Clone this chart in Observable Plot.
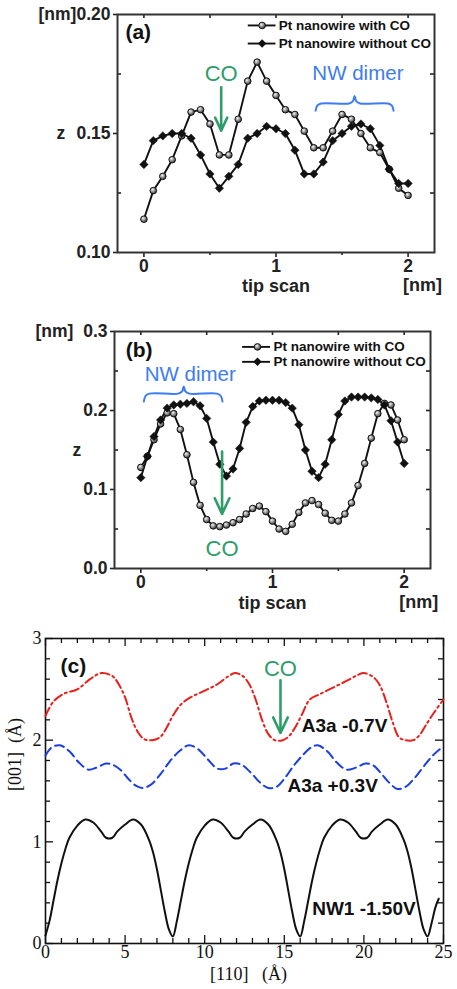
<!DOCTYPE html>
<html>
<head>
<meta charset="utf-8">
<script src="https://cdn.jsdelivr.net/npm/d3@7"></script>
<script src="https://cdn.jsdelivr.net/npm/@observablehq/plot@0.6"></script>
<style>
  html, body { margin: 0; padding: 0; background: #fff; }
  #wrap { width: 457px; }
  #wrap svg { display: block; }
</style>
</head>
<body>
<div id="wrap"></div>
<script>
// ---------------- DATA ----------------
// Panel (a)
const aX = [0,0.071,0.143,0.214,0.286,0.357,0.429,0.5,0.571,0.643,0.714,0.786,0.857,0.929,1,1.071,1.143,1.214,1.286,1.357,1.429,1.5,1.571,1.643,1.714,1.786,1.857,1.929,2];
const aWithCO = [0.114,0.126,0.132,0.139,0.149,0.159,0.160,0.154,0.141,0.141,0.156,0.172,0.180,0.172,0.166,0.160,0.158,0.151,0.144,0.144,0.151,0.158,0.156,0.150,0.144,0.142,0.135,0.127,0.124];
const aWithoutCO = [0.137,0.147,0.149,0.150,0.150,0.148,0.141,0.133,0.127,0.132,0.137,0.148,0.150,0.153,0.152,0.150,0.143,0.133,0.133,0.138,0.147,0.150,0.153,0.154,0.152,0.145,0.135,0.129,0.129];

// Panel (b)
const bX = [0,0.05,0.1,0.15,0.2,0.25,0.3,0.35,0.4,0.45,0.5,0.55,0.6,0.65,0.7,0.75,0.8,0.85,0.9,0.95,1,1.05,1.1,1.15,1.2,1.25,1.3,1.35,1.4,1.45,1.5,1.55,1.6,1.65,1.7,1.75,1.8,1.85,1.9,1.95,2];
const bWithCO = [0.128,0.142,0.163,0.183,0.197,0.196,0.176,0.144,0.109,0.080,0.062,0.054,0.053,0.055,0.058,0.062,0.069,0.076,0.079,0.072,0.060,0.050,0.047,0.056,0.071,0.083,0.086,0.081,0.070,0.061,0.060,0.069,0.083,0.105,0.133,0.165,0.196,0.209,0.207,0.188,0.163];
const bWithoutCO = [0.115,0.142,0.167,0.188,0.203,0.207,0.208,0.209,0.211,0.206,0.190,0.160,0.132,0.117,0.126,0.152,0.185,0.205,0.212,0.213,0.213,0.213,0.210,0.203,0.182,0.150,0.123,0.115,0.132,0.163,0.195,0.212,0.217,0.217,0.217,0.216,0.214,0.207,0.187,0.160,0.133];

// Panel (c)
const redX = [0,0.5,1.2,2.0,2.8,3.5,4.2,4.6,5.0,5.4,5.8,6.2,6.7,7.2,7.6,8.0,8.5,9.1,9.9,10.8,11.5,11.9,12.4,12.8,13.2,13.6,14.0,14.4,14.9,15.3,15.7,16.1,16.6,17.2,18.1,19.0,19.6,20.0,20.6,21.0,21.4,21.8,22.2,22.6,23.1,23.5,23.9,24.4,25.0];
const redY = [2.24,2.38,2.46,2.50,2.60,2.66,2.63,2.55,2.42,2.22,2.08,2.01,2.00,2.03,2.12,2.24,2.35,2.42,2.48,2.55,2.63,2.66,2.63,2.55,2.40,2.20,2.06,2.00,2.00,2.04,2.13,2.25,2.40,2.45,2.52,2.59,2.64,2.66,2.62,2.54,2.38,2.18,2.03,2.00,2.00,2.05,2.15,2.27,2.40];
const blueX = [0,0.4,0.9,1.5,2.1,2.7,3.2,3.8,4.2,4.7,5.2,5.7,6.1,6.6,7.2,7.8,8.4,9.0,9.6,10.2,10.8,11.3,11.8,12.3,12.9,13.5,14.0,14.5,15.0,15.6,16.2,16.7,17.1,17.7,18.3,18.9,19.5,20.1,20.6,21.1,21.6,22.1,22.6,23.2,23.8,24.4,25.0];
const blueY = [1.85,1.93,1.95,1.89,1.78,1.71,1.73,1.77,1.76,1.71,1.62,1.55,1.53,1.56,1.66,1.79,1.89,1.95,1.91,1.81,1.72,1.72,1.77,1.76,1.68,1.58,1.53,1.54,1.62,1.75,1.86,1.93,1.95,1.89,1.78,1.71,1.73,1.77,1.75,1.67,1.58,1.52,1.54,1.63,1.75,1.86,1.94];
const nwX = [0,0.25,0.5,0.75,1,1.25,1.5,2,2.5,3,3.5,3.8,4.2,4.5,5,5.5,6,6.5,6.75,7,7.25,7.5,7.75,8,
  8.25,8.5,8.75,9,9.25,9.5,10,10.5,11,11.5,11.8,12.2,12.5,13,13.5,14,14.5,14.75,15,15.25,15.5,15.75,16,
  16.25,16.5,16.75,17,17.25,17.5,18,18.5,19,19.5,19.8,20.2,20.5,21,21.5,22,22.5,22.75,23,23.25,23.5,23.75,24,
  24.25,24.5,24.7];
const nwY = [0.08,0.22,0.42,0.62,0.79,0.93,1.04,1.16,1.22,1.19,1.10,1.04,1.04,1.10,1.17,1.22,1.17,1.02,0.90,0.73,0.52,0.31,0.14,0.07,
  0.22,0.42,0.62,0.79,0.93,1.04,1.16,1.22,1.19,1.10,1.04,1.04,1.10,1.17,1.22,1.17,1.02,0.90,0.73,0.52,0.31,0.14,0.07,
  0.22,0.42,0.62,0.79,0.93,1.04,1.16,1.22,1.19,1.10,1.04,1.04,1.10,1.17,1.22,1.17,1.02,0.90,0.73,0.52,0.31,0.14,0.07,
  0.20,0.36,0.44];

// Tick values / labels
const abXMajor = [0, 1, 2];
const abXMinor = [0.5, 1.5];
const abXTop = [0, 0.5, 1, 1.5, 2];
const aYMajor = [0.10, 0.15, 0.20];
const aYMinorLeft = [0.125, 0.175];
const aYRight = [0.125, 0.15, 0.175];
const bYMajor = [0, 0.1, 0.2, 0.3];
const bYMinorLeft = [0.05, 0.15, 0.25];
const bYRight = [0.05, 0.1, 0.15, 0.2, 0.25];
const cXMajor = [0, 5, 10, 15, 20, 25];
const cXMinor = [1,2,3,4,6,7,8,9,11,12,13,14,16,17,18,19,21,22,23,24];
const cYMajor = [0, 1, 2, 3];
const cYMinor = [0.2,0.4,0.6,0.8,1.2,1.4,1.6,1.8,2.2,2.4,2.6,2.8];

// Texts
const legendLabels = ["Pt nanowire with CO", "Pt nanowire without CO"];
const cLabels = [
  {x: 16.1, y: 2.14, t: "A3a -0.7V"},
  {x: 15.2, y: 1.55, t: "A3a +0.3V"},
  {x: 16.75, y: 0.34, t: "NW1 -1.50V"}
];

// Annotation anchors (data units)
const aAnn = {co: {x: 0.585, yText: 0.1752, y1: 0.1694, y2: 0.1512},
              dimer: {x: 1.62, y: 0.1752}, brace: {x1: 1.30, x2: 1.89, xm: 1.595, y: 0.1626, yEnd: 0.1596, yTip: 0.1658},
              legend: {x1: 0.79, x2: 1.0, xm: 0.895, xt: 1.02, rows: [0.1954, 0.1878]}, tag: {x: -0.14, y: 0.1924}};
const bAnn = {co: {x: 0.617, yText: 0.025, y1: 0.148, y2: 0.069},
              dimer: {x: 0.375, y: 0.2453}, brace: {x1: 0.023, x2: 0.62, xm: 0.326, y: 0.2214, yEnd: 0.2113, yTip: 0.2305},
              legend: {x1: 0.773, x2: 0.985, xm: 0.886, xt: 1.008, rows: [0.2805, 0.2616]}, tag: {x: -0.115, y: 0.2767}};
const cAnn = {co: {x: 14.76, yText: 2.70, y1: 2.59, y2: 2.07}, tag: {x: 0.95, y: 2.73}};

// ---------------- STYLE ----------------
const SANS = "'Liberation Sans', Arial, Helvetica, sans-serif";
const SERIF = "'Liberation Serif', 'Times New Roman', Times, serif";
const GREEN = "#2e9d6a";
const BLUE = "#3d7cf2";
const RED = "#e8201c";
const DBLUE = "#1a3ee0";
const DIAMOND = d3.symbolDiamond2 || "diamond";

function bracePts(b) {
  const dx = (b.x2 - b.x1) * 0.07;
  const e = b.y - b.yEnd, t = b.yTip - b.y;
  return [
    [b.x1, b.yEnd], [b.x1 + dx * 0.3, b.y - e * 0.3], [b.x1 + dx, b.y],
    [b.xm - dx, b.y], [b.xm - dx * 0.3, b.y + t * 0.3], [b.xm, b.yTip],
    [b.xm + dx * 0.3, b.y + t * 0.3], [b.xm + dx, b.y],
    [b.x2 - dx, b.y], [b.x2 - dx * 0.3, b.y - e * 0.3], [b.x2, b.yEnd]
  ];
}

function addBall(svg, id) {
  const ns = "http://www.w3.org/2000/svg";
  const defs = document.createElementNS(ns, "defs");
  defs.innerHTML = `<radialGradient id="${id}" cx="38%" cy="35%" r="70%">
    <stop offset="0%" stop-color="#f4f4f4"/><stop offset="45%" stop-color="#9a9a9a"/>
    <stop offset="100%" stop-color="#262626"/></radialGradient>`;
  svg.insertBefore(defs, svg.firstChild);
}

function scanPanel(cfg) {
  const {xs, withCO, withoutCO, height, mt, mb, ml, mr, yDomain, yMajor, yMinorLeft, yRight,
         yFmt, zDx, ann, tag, ballId} = cfg;
  const W = 457 - ml - mr, H = height - mt - mb;
  const rows = xs.map((x, i) => ({x, w: withCO[i], wo: withoutCO[i]}));
  const ink = "#222";
  const svg = Plot.plot({
    width: 457, height, marginTop: mt, marginBottom: mb, marginLeft: ml, marginRight: mr,
    style: {fontFamily: SANS, fontWeight: "bold", fontSize: "17.5px", color: ink, background: "#fff", overflow: "visible"},
    x: {domain: [-0.2, 2.2]},
    y: {domain: yDomain},
    marks: [
      Plot.axisX(abXMajor, {anchor: "bottom", tickSize: 5, tickPadding: 2, label: null, tickFormat: d => String(d), strokeWidth: 1.6}),
      Plot.axisX(abXMinor, {anchor: "bottom", tickSize: 3, label: null, tickFormat: () => "", strokeWidth: 1.6}),
      Plot.tickX(abXTop, {x: d => d, insetBottom: H - 4, stroke: ink, strokeWidth: 1.6}),
      Plot.axisY(yMajor, {anchor: "left", tickSize: 4, tickPadding: 3, label: null, tickFormat: yFmt, strokeWidth: 1.6}),
      Plot.tickY(yMinorLeft, {y: d => d, insetRight: W - 4, stroke: ink, strokeWidth: 1.6}),
      Plot.tickY(yRight, {y: d => d, insetLeft: W - 4, stroke: ink, strokeWidth: 1.6}),
      Plot.frame({stroke: "#333", strokeWidth: 2}),
      Plot.text([{y: 0.15, t: "z"}], {y: "y", text: "t", frameAnchor: "left", dx: zDx, fontSize: 17.5}),
      Plot.text([{x: 1, t: "tip scan"}], {x: "x", text: "t", frameAnchor: "bottom", dy: cfg.labelDy, fontSize: 18}),
      Plot.text([{x: 2.11, t: "[nm]"}], {x: "x", text: "t", frameAnchor: "bottom", dy: cfg.labelDy - 1, fontSize: 18}),
      // series
      Plot.line(rows, {x: "x", y: "w", stroke: "#111", strokeWidth: 1.9}),
      Plot.line(rows, {x: "x", y: "wo", stroke: "#111", strokeWidth: 1.9}),
      Plot.dot(rows, {x: "x", y: "w", r: 3.3, fill: `url(#${ballId})`, stroke: "#111", strokeWidth: 1}),
      Plot.dot(rows, {x: "x", y: "wo", r: 3.8, symbol: DIAMOND, fill: "#111", stroke: "#111", strokeWidth: 0.5}),
      // legend
      Plot.ruleY(ann.legend.rows, {y: d => d, x1: ann.legend.x1, x2: ann.legend.x2, stroke: "#111", strokeWidth: 1.9}),
      Plot.dot([ann.legend.rows[0]], {x: ann.legend.xm, y: d => d, r: 3.3, fill: `url(#${ballId})`, stroke: "#111", strokeWidth: 1}),
      Plot.dot([ann.legend.rows[1]], {x: ann.legend.xm, y: d => d, r: 3.8, symbol: DIAMOND, fill: "#111"}),
      Plot.text(legendLabels, {x: ann.legend.xt, y: (d, i) => ann.legend.rows[i], text: d => d, textAnchor: "start", fontSize: 13.5, fill: "#111"}),
      // panel tag
      Plot.text([tag], {x: ann.tag.x, y: ann.tag.y, text: d => d, textAnchor: "start", fontSize: 21, fill: "#111"}),
      // NW dimer
      Plot.line(bracePts(ann.brace), {x: d => d[0], y: d => d[1], curve: "catmull-rom", stroke: BLUE, strokeWidth: 2}),
      Plot.text(["NW dimer"], {x: ann.dimer.x, y: ann.dimer.y, text: d => d, fill: BLUE, fontSize: 20.5, fontWeight: "normal"}),
      // CO
      Plot.arrow([ann.co], {x1: "x", y1: "y1", x2: "x", y2: "y2", stroke: GREEN, strokeWidth: 2.6, headLength: 10, headAngle: 50}),
      Plot.text([ann.co], {x: "x", y: "yText", text: () => "CO", fill: GREEN, fontSize: 22, fontWeight: "normal"})
    ]
  });
  addBall(svg, ballId);
  return svg;
}

const wrap = document.getElementById("wrap");

// ---------------- PANEL (a) ----------------
wrap.appendChild(scanPanel({
  xs: aX, withCO: aWithCO, withoutCO: aWithoutCO,
  height: 300, mt: 14, mb: 48, ml: 117, mr: 23,
  yDomain: [0.10, 0.20], yMajor: aYMajor, yMinorLeft: aYMinorLeft, yRight: aYRight,
  yFmt: d => (Math.abs(d - 0.2) < 1e-9 ? "[nm]0.20" : d.toFixed(2)),
  zDx: -61, ann: aAnn, tag: "(a)", ballId: "ballA", labelDy: 39
}));

// ---------------- PANEL (b) ----------------
wrap.appendChild(scanPanel({
  xs: bX, withCO: bWithCO, withoutCO: bWithoutCO,
  height: 320, mt: 31, mb: 52, ml: 114, mr: 27,
  yDomain: [0, 0.3], yMajor: bYMajor, yMinorLeft: bYMinorLeft, yRight: bYRight,
  yFmt: d => (Math.abs(d - 0.3) < 1e-9 ? "[nm]\u00a0\u00a00.3" : d.toFixed(1)),
  zDx: -42, ann: bAnn, tag: "(b)", ballId: "ballB", labelDy: 40
}));

// ---------------- PANEL (c) ----------------
(function () {
  const mt = 18, mb = 46, ml = 45, mr = 14, height = 369;
  const W = 457 - ml - mr, H = height - mt - mb;
  const red = redX.map((x, i) => ({x, y: redY[i]}));
  const blue = blueX.map((x, i) => ({x, y: blueY[i]}));
  const nw = nwX.map((x, i) => ({x, y: nwY[i]}));
  const svg = Plot.plot({
    width: 457, height, marginTop: mt, marginBottom: mb, marginLeft: ml, marginRight: mr,
    style: {fontFamily: SERIF, fontSize: "18px", color: "#111", background: "#fff", overflow: "visible"},
    x: {domain: [0, 25]},
    y: {domain: [0, 3]},
    marks: [
      Plot.axisX(cXMajor, {anchor: "bottom", tickSize: 0, tickPadding: 2, label: null, tickFormat: d => String(d), fontFamily: SERIF, fontSize: 18}),
      Plot.axisY(cYMajor, {anchor: "left", tickSize: 0, tickPadding: 4, label: null, tickFormat: d => String(d), fontFamily: SERIF, fontSize: 18}),
      // inward ticks
      Plot.tickX(cXMajor, {x: d => d, insetTop: H - 8, stroke: "#111", strokeWidth: 1.3}),
      Plot.tickX(cXMajor, {x: d => d, insetBottom: H - 8, stroke: "#111", strokeWidth: 1.3}),
      Plot.tickX(cXMinor, {x: d => d, insetTop: H - 5, stroke: "#111", strokeWidth: 1.3}),
      Plot.tickX(cXMinor, {x: d => d, insetBottom: H - 5, stroke: "#111", strokeWidth: 1.3}),
      Plot.tickY(cYMajor, {y: d => d, insetRight: W - 8, stroke: "#111", strokeWidth: 1.3}),
      Plot.tickY(cYMajor, {y: d => d, insetLeft: W - 8, stroke: "#111", strokeWidth: 1.3}),
      Plot.tickY(cYMinor, {y: d => d, insetRight: W - 5, stroke: "#111", strokeWidth: 1.3}),
      Plot.tickY(cYMinor, {y: d => d, insetLeft: W - 5, stroke: "#111", strokeWidth: 1.3}),
      Plot.frame({stroke: "#111", strokeWidth: 1.6}),
      // axis titles
      Plot.text(["[110]\u00a0\u00a0\u00a0(\u00c5)"], {x: 12.75, frameAnchor: "bottom", dy: 36, text: d => d, fontFamily: SERIF, fontSize: 18}),
      Plot.text(["[001]\u00a0\u00a0(\u00c5)"], {y: 1.5, frameAnchor: "left", dx: -30, rotate: -90, text: d => d, fontFamily: SERIF, fontSize: 18}),
      // curves
      Plot.line(red, {x: "x", y: "y", stroke: RED, strokeWidth: 2, strokeDasharray: "9,3.5,2,3.5", curve: "catmull-rom"}),
      Plot.line(blue, {x: "x", y: "y", stroke: DBLUE, strokeWidth: 2, strokeDasharray: "9,5", curve: "catmull-rom"}),
      Plot.line(nw, {x: "x", y: "y", stroke: "#111", strokeWidth: 2, curve: "catmull-rom"}),
      // labels
      Plot.text(cLabels, {x: "x", y: "y", text: "t", textAnchor: "start", fontFamily: SANS, fontWeight: "bold", fontSize: 19, fill: "#111"}),
      Plot.text(["(c)"], {x: cAnn.tag.x, y: cAnn.tag.y, text: d => d, textAnchor: "start", fontFamily: SANS, fontWeight: "bold", fontSize: 21, fill: "#111"}),
      Plot.arrow([cAnn.co], {x1: "x", y1: "y1", x2: "x", y2: "y2", stroke: GREEN, strokeWidth: 2.6, headLength: 10, headAngle: 50}),
      Plot.text([cAnn.co], {x: "x", y: "yText", text: () => "CO", fill: GREEN, fontFamily: SANS, fontSize: 22})
    ]
  });
  wrap.appendChild(svg);
})();
</script>
</body>
</html>
